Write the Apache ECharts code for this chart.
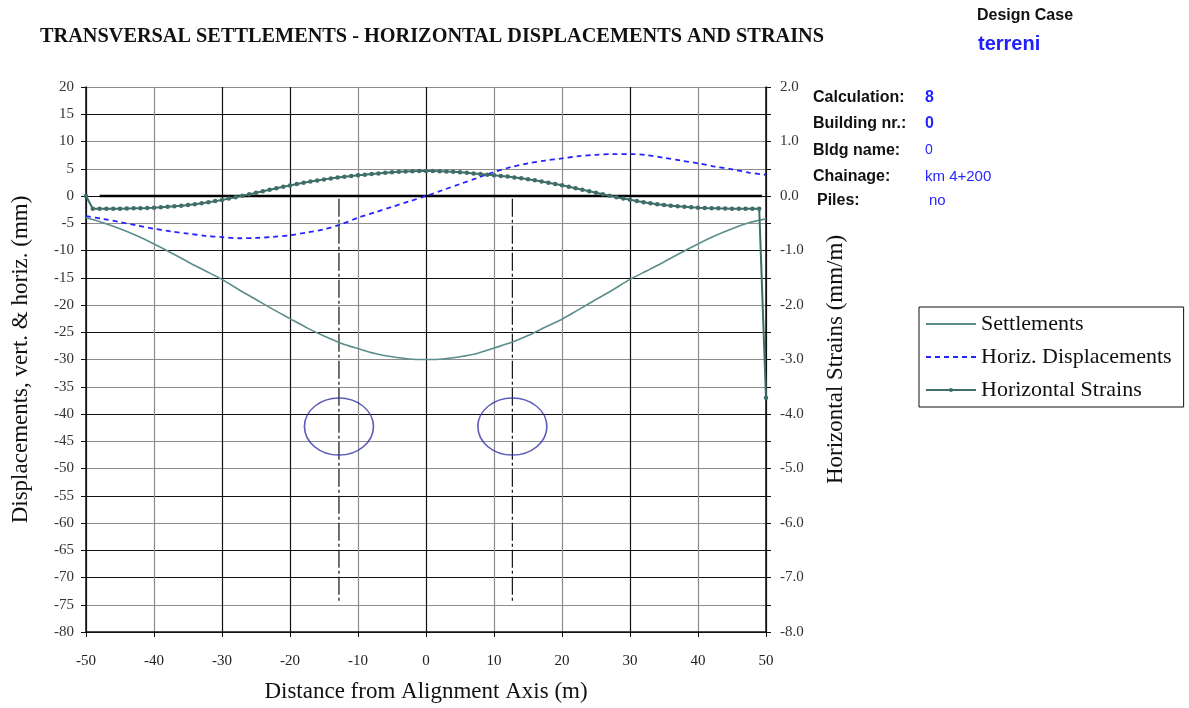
<!DOCTYPE html>
<html>
<head>
<meta charset="utf-8">
<script src="https://cdn.jsdelivr.net/npm/echarts@6/dist/echarts.min.js"></script>
<style>
html,body{margin:0;padding:0;background:#fff;}
#chart{width:1189px;height:708px;}
</style>
</head>
<body>
<div id="chart"></div>
<script>
// ---- data ----
const stationsCoarse = [-50,-47.5,-45,-42.5,-40,-37.5,-35,-32.5,-30,-27.5,-25,-22.5,-20,-17.5,-15,-12.5,-10,-7.5,-5,-2.5,0,
  2.5,5,7.5,10,12.5,15,17.5,20,22.5,25,27.5,30,32.5,35,37.5,40,42.5,45,47.5,50];
const settlements = [-4.0,-4.9,-6.0,-7.3,-8.8,-10.4,-12.1,-13.7,-15.3,-17.2,-19.0,-20.8,-22.5,-24.2,-25.7,-27.0,-28.0,-28.9,-29.5,-29.9,-30.0,
  -29.9,-29.5,-28.9,-27.9,-26.9,-25.6,-24.1,-22.6,-20.8,-19.0,-17.2,-15.3,-13.7,-12.1,-10.4,-8.8,-7.3,-6.0,-4.9,-4.2];
const horizDisplacements = [-3.7,-4.2,-4.8,-5.4,-6.0,-6.5,-6.9,-7.3,-7.55,-7.75,-7.7,-7.5,-7.2,-6.7,-6.1,-5.2,-4.0,-3.0,-2.0,-1.0,0.0,
  1.1,2.2,3.3,4.4,5.3,6.0,6.5,6.9,7.3,7.55,7.7,7.7,7.5,7.0,6.5,6.0,5.4,4.9,4.3,3.9];
const stationsFine = [-50,-49,-48,-47,-46,-45,-44,-43,-42,-41,-40,-39,-38,-37,-36,-35,-34,-33,-32,-31,-30,-29,-28,-27,-26,-25,-24,-23,-22,-21,
  -20,-19,-18,-17,-16,-15,-14,-13,-12,-11,-10,-9,-8,-7,-6,-5,-4,-3,-2,-1,0,1,2,3,4,5,6,7,8,9,10,11,12,13,14,15,16,17,18,19,20,
  21,22,23,24,25,26,27,28,29,30,31,32,33,34,35,36,37,38,39,40,41,42,43,44,45,46,47,48,49,50];
const horizStrains = [0.00,-0.235,-0.236,-0.236,-0.235,-0.233,-0.230,-0.227,-0.223,-0.219,-0.214,-0.207,-0.199,-0.189,-0.178,-0.166,-0.150,-0.133,-0.114,-0.094,
  -0.072,-0.048,-0.023,0.003,0.030,0.058,0.086,0.114,0.141,0.168,0.194,0.219,0.243,0.265,0.286,0.305,0.323,0.339,0.354,0.367,
  0.379,0.391,0.403,0.415,0.426,0.436,0.444,0.450,0.455,0.458,0.460,
  0.458,0.455,0.450,0.444,0.436,0.426,0.415,0.403,0.391,0.381,0.369,0.356,0.341,0.325,0.307,0.288,0.267,0.245,0.221,0.196,
  0.170,0.143,0.116,0.088,0.060,0.032,0.005,-0.021,-0.046,-0.070,-0.093,-0.113,-0.132,-0.150,-0.166,-0.178,-0.189,-0.199,-0.207,
  -0.214,-0.219,-0.223,-0.227,-0.230,-0.233,-0.235,-0.236,-0.236,-0.235,-3.70];
const zeroLineX = [-48, 49.4];
const tunnelAxisX = [-12.8, 12.7];
const tunnelAxisTop = -0.5, tunnelAxisBottom = -74.3;
const tunnelCentreY = -42.3;
const seriesNames = ['Settlements', 'Horiz. Displacements', 'Horizontal Strains'];
const infoLabels = ['Calculation:', 'Building nr.:', 'Bldg name:', 'Chainage:', 'Piles:'];
const infoValues = ['8', '0', '0', 'km 4+200', 'no'];

const pair = (xs, ys) => xs.map((x, i) => [x, ys[i]]);
const serif = 'Liberation Serif';
const sans = 'Liberation Sans';

const vGridColors = ['#111','#8c8c8c','#111','#111','#8c8c8c','#111','#8c8c8c','#8c8c8c','#111','#8c8c8c','#111'];
const hGridColors = ['#111','#8c8c8c','#111','#111','#8c8c8c','#111','#8c8c8c','#8c8c8c','#111','#8c8c8c','#8c8c8c','#111','#8c8c8c','#111','#111','#8c8c8c','#111','#8c8c8c','#8c8c8c','#111','#8c8c8c'];

const chart = echarts.init(document.getElementById('chart'), null, {renderer: 'canvas'});

const infoGraphics = [];
const infoY = [99, 125, 152, 178, 202];
const infoLX = [813, 813, 813, 813, 817];
const infoVX = [925, 925, 925, 925, 929];
const infoVW = ['bold','bold','normal','normal','normal'];
const infoVS = [16, 16, 14, 15, 15];
infoLabels.forEach((t, i) => {
  infoGraphics.push({type:'text', left: infoLX[i], top: infoY[i] - 9, style:{text:t, font:'bold 16px ' + sans, fill:'#111'}});
  infoGraphics.push({type:'text', left: infoVX[i], top: infoY[i] - 9, style:{text:infoValues[i], font: infoVW[i] + ' ' + infoVS[i] + 'px ' + sans, fill:'#2626ff'}});
});

const noSymbol = {color: 'rgba(0,0,0,0)', borderWidth: 0};

chart.setOption({
  animation: false,
  backgroundColor: '#fff',
  title: {
    text: 'TRANSVERSAL SETTLEMENTS - HORIZONTAL DISPLACEMENTS AND STRAINS',
    left: 40, top: 27, padding: 0,
    textStyle: {fontFamily: serif, fontWeight: 'bold', fontSize: 20.3, color: '#111'}
  },
  graphic: [
    {type:'text', left: 977, top: 8, style:{text:'Design Case', font:'bold 16px ' + sans, fill:'#111'}},
    {type:'text', left: 978, top: 34, style:{text:'terreni', font:'bold 20px ' + sans, fill:'#2020ff'}}
  ].concat(infoGraphics),
  legend: {
    data: [
      {name: seriesNames[0], itemStyle: noSymbol},
      {name: seriesNames[1], itemStyle: noSymbol},
      {name: seriesNames[2]}
    ],
    orient: 'vertical',
    left: 919, top: 307,
    itemWidth: 50, itemHeight: 5, itemGap: 11,
    padding: [6, 12, 6, 6],
    borderColor: '#111', borderWidth: 1,
    textStyle: {fontFamily: serif, fontSize: 22, color: '#111', lineHeight: 22},
    selectedMode: false
  },
  grid: {left: 86, right: 423, top: 87, bottom: 75},
  xAxis: {
    type: 'value', min: -50, max: 50, interval: 10,
    name: 'Distance from Alignment Axis (m)', nameLocation: 'middle', nameGap: 48,
    nameTextStyle: {fontFamily: serif, fontSize: 23, color: '#111'},
    axisLine: {onZero: false, lineStyle: {color: '#111', width: 1.5}},
    axisTick: {inside: false, length: 5, lineStyle: {color: '#111'}},
    axisLabel: {margin: 22, fontFamily: serif, fontSize: 15, color: '#222'},
    splitLine: {show: true, lineStyle: {color: vGridColors, width: 1.2}}
  },
  yAxis: [
    {
      type: 'value', min: -80, max: 20, interval: 5, position: 'left',
      name: 'Displacements, vert. & horiz. (mm)', nameLocation: 'middle', nameGap: 54, nameRotate: 90,
      nameTextStyle: {fontFamily: serif, fontSize: 23, color: '#111'},
      axisLine: {show: true, onZero: false, lineStyle: {color: '#111', width: 1.5}},
      axisTick: {show: true, inside: false, length: 5, lineStyle: {color: '#111'}},
      axisLabel: {margin: 12, fontFamily: serif, fontSize: 15, color: '#333'},
      splitLine: {show: true, lineStyle: {color: hGridColors, width: 1.2}}
    },
    {
      type: 'value', min: -8, max: 2, interval: 0.5, position: 'right',
      name: 'Horizontal Strains (mm/m)', nameLocation: 'middle', nameGap: 58, nameRotate: 90,
      nameTextStyle: {fontFamily: serif, fontSize: 23, color: '#111'},
      axisLine: {show: true, onZero: false, lineStyle: {color: '#111', width: 1.5}},
      axisTick: {show: true, inside: false, length: 5, lineStyle: {color: '#111'}},
      axisLabel: {margin: 14, fontFamily: serif, fontSize: 15, color: '#333',
        formatter: v => Math.abs(Math.round(v) - v) < 1e-6 ? v.toFixed(1) : ''},
      splitLine: {show: false}
    }
  ],
  series: [
    {name: 'zero', type: 'line', data: pair(zeroLineX, [0, 0]), symbol: 'none', silent: true,
      lineStyle: {color: '#000', width: 2.5}, z: 2},
    {name: 'axisL', type: 'line', data: [[tunnelAxisX[0], tunnelAxisTop], [tunnelAxisX[0], tunnelAxisBottom]], symbol: 'none', silent: true,
      lineStyle: {color: '#111', width: 1.2, type: [18, 3, 3, 3]}, z: 2},
    {name: 'axisR', type: 'line', data: [[tunnelAxisX[1], tunnelAxisTop], [tunnelAxisX[1], tunnelAxisBottom]], symbol: 'none', silent: true,
      lineStyle: {color: '#111', width: 1.2, type: [18, 3, 3, 3]}, z: 2},
    {name: 'tunnels', type: 'scatter', data: pair(tunnelAxisX, [tunnelCentreY, tunnelCentreY]), symbol: 'circle', symbolSize: [69, 57], silent: true,
      itemStyle: {color: 'rgba(0,0,0,0)', borderColor: '#3434a8', borderWidth: 1.5}, z: 3},
    {name: seriesNames[0], type: 'line', data: pair(stationsCoarse, settlements), symbol: 'none', smooth: 0.3,
      itemStyle: {color: '#5b8e8b'}, lineStyle: {color: '#5b8e8b', width: 1.6}, z: 4},
    {name: seriesNames[1], type: 'line', data: pair(stationsCoarse, horizDisplacements), symbol: 'none', smooth: 0.3,
      itemStyle: {color: '#2323ff'}, lineStyle: {color: '#2323ff', width: 1.8, type: [5, 4]}, z: 5},
    {name: seriesNames[2], type: 'line', yAxisIndex: 1, data: pair(stationsFine, horizStrains), symbol: 'circle', symbolSize: 4.5, showAllSymbol: true,
      itemStyle: {color: '#3f6e6a'}, lineStyle: {color: '#3f6e6a', width: 2}, z: 6}
  ]
});
</script>
</body>
</html>
